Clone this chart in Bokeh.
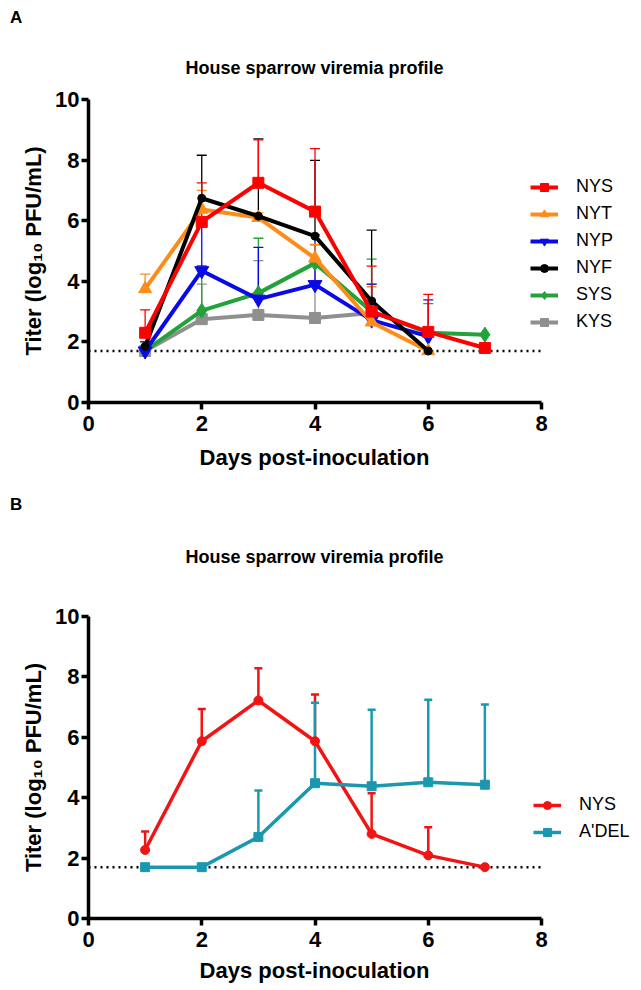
from bokeh.plotting import figure
from bokeh.models import Whisker, TeeHead, ColumnDataSource, Legend, LegendItem, Div
from bokeh.layouts import column
from bokeh.embed import file_html
from bokeh.resources import INLINE

# ---------------- data ----------------
lod = 1.7
x_ticks = [0, 2, 4, 6, 8]
y_ticks = [0, 2, 4, 6, 8, 10]
title_text = "House sparrow viremia profile"
x_label = "Days post-inoculation"
y_label = "Titer (log\u2081\u2080 PFU/mL)"

# Panel A
nys_a_days = [1, 2, 3, 4, 5, 6, 7]
nys_a_mean = [2.30, 5.96, 7.25, 6.30, 3.00, 2.33, 1.80]
nys_a_upper = [3.06, 7.25, 8.67, 8.38, 4.50, 3.57, 1.80]

nyt_days = [1, 2, 3, 4, 5, 6]
nyt_mean = [3.75, 6.37, 6.10, 4.76, 2.65, 1.70]
nyt_upper = [4.24, 7.00, 6.26, 5.22, 3.82, 1.70]

nyp_days = [1, 2, 3, 4, 5, 6]
nyp_mean = [1.70, 4.35, 3.41, 3.89, 2.72, 2.18]
nyp_upper = [1.70, 6.10, 5.12, 5.53, 3.91, 3.39]

nyf_days = [1, 2, 3, 4, 5, 6]
nyf_mean = [1.85, 6.74, 6.15, 5.49, 3.35, 1.70]
nyf_upper = [2.00, 8.16, 8.70, 7.99, 5.69, 1.70]

sys_days = [1, 2, 3, 4, 5, 6, 7]
sys_mean = [1.70, 3.03, 3.61, 4.60, 3.00, 2.30, 2.24]
sys_upper = [1.70, 4.52, 5.42, 5.20, 4.73, 3.26, 2.24]

kys_days = [1, 2, 3, 4, 5]
kys_mean = [1.70, 2.75, 2.89, 2.79, 2.95]
kys_upper = [1.70, 3.91, 4.68, 4.60, 3.90]

# Panel B
nys_b_days = [1, 2, 3, 4, 5, 6, 7]
nys_b_mean = [2.27, 5.87, 7.22, 5.87, 2.80, 2.09, 1.70]
nys_b_upper = [2.88, 6.94, 8.29, 7.42, 4.15, 3.02, 1.70]

adel_days = [1, 2, 3, 4, 5, 6, 7]
adel_mean = [1.70, 1.70, 2.70, 4.48, 4.38, 4.51, 4.43]
adel_upper = [1.70, 1.70, 4.24, 7.14, 6.91, 7.24, 7.09]

FONT = "Liberation Sans"
AXIS_MAX = 8
# frame spans 545 px while the drawn axis (0..8) spans 453 px; legend sits in the extra room
X_VIEW_MAX = AXIS_MAX * 545 / 453


def header(letter, height, letter_top, title_top):
    html = (
        f'<div style="position:relative;width:641px;height:{height}px;'
        f'font-family:\'{FONT}\';font-weight:bold;color:black;line-height:20px;">'
        f'<span style="position:absolute;left:10px;top:{letter_top}px;font-size:17px;">{letter}</span>'
        f'<span style="position:absolute;left:0px;width:629px;text-align:center;top:{title_top}px;font-size:18px;">{title_text}</span>'
        '</div>'
    )
    return Div(text=html, width=641, height=height, margin=0)


def xlabel_div(height, top):
    html = (
        f'<div style="position:relative;width:641px;height:{height}px;'
        f'font-family:\'{FONT}\';font-weight:bold;color:black;font-size:22px;line-height:26px;">'
        f'<span style="position:absolute;left:0px;width:629px;text-align:center;top:{top}px;">{x_label}</span>'
        '</div>'
    )
    return Div(text=html, width=641, height=height, margin=0)


def make_fig(height, top, bottom):
    p = figure(width=641, height=height, x_range=(0, X_VIEW_MAX), y_range=(0, 10),
               output_backend="svg", toolbar_location=None, title=None,
               min_border_left=88, min_border_right=8,
               min_border_top=top, min_border_bottom=bottom)
    p.margin = 0
    p.outline_line_color = None
    p.xgrid.visible = False
    p.ygrid.visible = False
    p.background_fill_color = "white"
    p.border_fill_color = "white"
    for ax in (p.xaxis[0], p.yaxis[0]):
        ax.axis_line_width = 3.5
        ax.axis_line_color = "black"
        ax.major_tick_line_width = 3.5
        ax.major_tick_line_color = "black"
        ax.major_tick_out = 7
        ax.major_tick_in = 0
        ax.minor_tick_line_color = None
        ax.major_label_text_font = FONT
        ax.major_label_text_font_size = "22px"
        ax.major_label_text_font_style = "bold"
        ax.major_label_text_color = "black"
        ax.axis_label_text_font = FONT
        ax.axis_label_text_font_size = "22px"
        ax.axis_label_text_font_style = "bold"
        ax.axis_label_text_color = "black"
    p.xaxis.bounds = (0, AXIS_MAX)
    p.xaxis.ticker = x_ticks
    p.yaxis.ticker = y_ticks
    p.yaxis.axis_label = y_label
    p.xaxis.major_label_standoff = 6
    p.yaxis.major_label_standoff = 2
    p.yaxis.axis_label_standoff = 6
    p.line([0, AXIS_MAX], [lod, lod], line_color="black", line_width=2.5, line_dash="2 4")
    return p


def add_series(p, days, mean, upper, color, marker, size, lw, ebw, cap):
    src = ColumnDataSource(dict(x=days, y=mean, up=upper))
    p.add_layout(Whisker(base="x", lower="y", upper="up", source=src,
                         line_color=color, line_width=ebw, lower_head=None,
                         upper_head=TeeHead(size=cap, line_color=color, line_width=ebw)))
    r1 = p.line("x", "y", source=src, line_color=color, line_width=lw)
    r2 = p.scatter("x", "y", source=src, marker=marker, size=size,
                   fill_color=color, line_color=color)
    return [r1, r2]


def make_legend(items, names, loc):
    return Legend(items=[LegendItem(label=k, renderers=items[k]) for k in names],
                  location=loc, padding=0, margin=0, spacing=6,
                  glyph_width=28, glyph_height=20, label_height=20, label_standoff=18,
                  label_text_font=FONT, label_text_font_size="18px",
                  label_text_color="black",
                  border_line_color=None, background_fill_alpha=0)


# ---------------- panel A ----------------
head_a = header("A", 80, 8, 58)
pa = make_fig(363, 19, 41)
items_a = {}
items_a["KYS"] = add_series(pa, kys_days, kys_mean, kys_upper, "#8f8f8f", "square", 11, 4, 1.3, 10)
items_a["SYS"] = add_series(pa, sys_days, sys_mean, sys_upper, "#23a23a", "diamond", 15, 4, 1.3, 10)
items_a["NYP"] = add_series(pa, nyp_days, nyp_mean, nyp_upper, "#0a0ae6", "inverted_triangle", 14, 4, 1.3, 10)
items_a["NYT"] = add_series(pa, nyt_days, nyt_mean, nyt_upper, "#ff8c1a", "triangle", 13, 4, 1.3, 10)
items_a["NYF"] = add_series(pa, nyf_days, nyf_mean, nyf_upper, "#000000", "circle", 8, 4, 1.3, 10)
items_a["NYS"] = add_series(pa, nys_a_days, nys_a_mean, nys_a_upper, "#ff0000", "square", 11, 4, 1.3, 10)
pa.add_layout(make_legend(items_a, ["NYS", "NYT", "NYP", "NYF", "SYS", "KYS"], (442, 70)))
lab_a = xlabel_div(37, 2)

# ---------------- panel B ----------------
head_b = header("B", 120, 15, 67)
pb = make_fig(358, 16, 40)
items_b = {}
items_b["NYS"] = add_series(pb, nys_b_days, nys_b_mean, nys_b_upper, "#f01414", "circle", 9, 3.5, 2.5, 8)
items_b["A'DEL"] = add_series(pb, adel_days, adel_mean, adel_upper, "#1b98b0", "square", 9, 3.5, 2.5, 8)
pb.add_layout(make_legend(items_b, ["NYS", "A'DEL"], (445, 76)))
lab_b = xlabel_div(30, 0)

layout = column(head_a, pa, lab_a, head_b, pb, lab_b, spacing=0)
open("out.html", "w").write(file_html(layout, INLINE))
